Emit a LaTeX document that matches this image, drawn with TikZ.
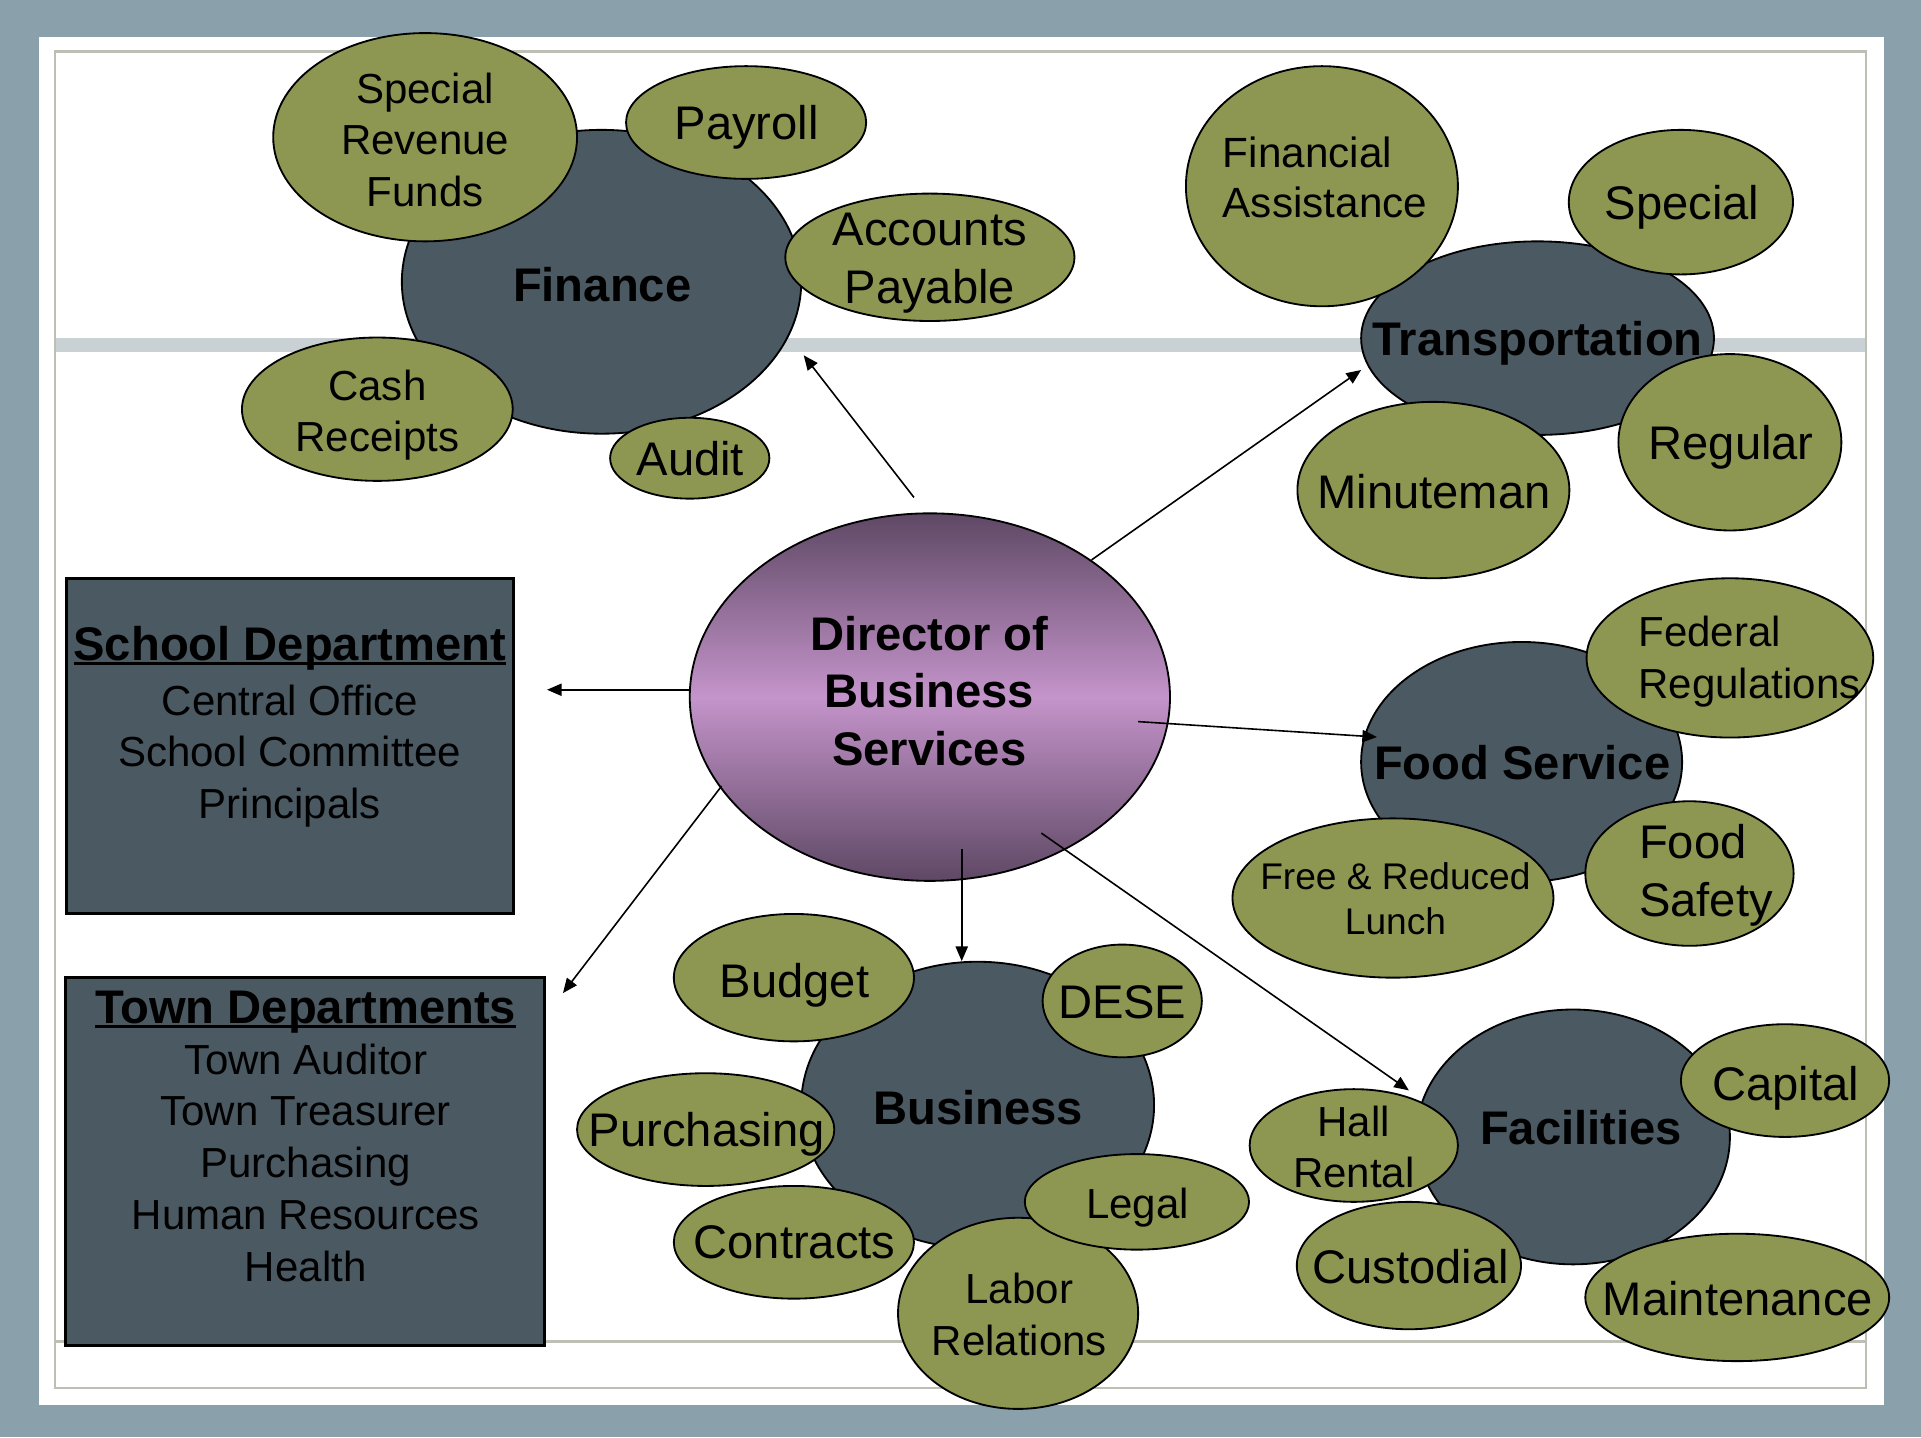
\documentclass[tikz,border=0pt]{standalone}
\usepackage{fontspec}
\setmainfont{Liberation Sans}
\usetikzlibrary{shapes.geometric,arrows.meta}
\definecolor{bgblue}{RGB}{138,160,171}
\definecolor{frameline}{RGB}{190,191,180}
\definecolor{band}{RGB}{202,209,212}
\definecolor{olive}{RGB}{142,151,82}
\definecolor{slate}{RGB}{74,89,98}
\definecolor{dirdark}{RGB}{94,72,100}
\definecolor{dirlight}{RGB}{196,148,202}
\newsavebox\ulbox
\newcommand{\myuline}[1]{\sbox\ulbox{#1}\rlap{\rule[-4pt]{\wd\ulbox}{2.5pt}}\usebox\ulbox}
\tikzset{
  bub/.style={ellipse, draw=black, line width=1.5pt, inner sep=0pt, fill=olive},
  hub/.style={ellipse, draw=black, line width=1.5pt, inner sep=0pt, fill=slate},
  deptbox/.style={rectangle, draw=black, line width=2.5pt, fill=slate, inner sep=0pt},
  big/.style={font=\fontsize{38.5}{47}\selectfont},
  med/.style={font=\fontsize{34.3}{42}\selectfont},
  sml/.style={font=\fontsize{30.3}{37}\selectfont},
  bigb/.style={font=\fontsize{38.5}{47}\selectfont\bfseries},
  txt/.style={inner sep=0pt, align=center},
  txt1/.style={inner sep=0pt, text depth=0pt},
  arr/.style={line width=1.3pt, -{Triangle[length=12pt,width=10pt]}}
}
\begin{document}
\begin{tikzpicture}[x=1pt,y=-1pt]
\useasboundingbox (0,0) rectangle (1568,1173);
% frame
\fill[bgblue] (0,0) rectangle (1568,1173);
\fill[white] (32,30) rectangle (1538,1147);
\fill[band] (45,276) rectangle (1523,287);
\draw[frameline, line width=2pt] (45,42) rectangle (1523,1133);
\draw[frameline, line width=2pt] (45,1095) -- (1523,1095);

% department boxes
\node[deptbox, minimum width=365, minimum height=274] (school) at (236.5,609) {};
\node[deptbox, minimum width=391, minimum height=300] (town) at (249,948) {};

% Finance cluster
\node[hub, minimum width=326, minimum height=248] (fin) at (491,230) {};
\node[bub, minimum width=248, minimum height=170] (srf) at (347,112) {};
\node[bub, minimum width=196, minimum height=92] (pay) at (609,100) {};
\node[bub, minimum width=236, minimum height=104] (ap) at (759,210) {};
\node[bub, minimum width=221, minimum height=117] (cash) at (308,334) {};
\node[bub, minimum width=130, minimum height=66] (audit) at (563,374) {};

% Transportation cluster
\node[hub, minimum width=288, minimum height=158] (trans) at (1255,276) {};
\node[bub, minimum width=222, minimum height=196] (fa) at (1079,152) {};
\node[bub, minimum width=183, minimum height=118] (spec) at (1372,165) {};
\node[bub, minimum width=182, minimum height=144] (reg) at (1412,361) {};
\node[bub, minimum width=222, minimum height=144] (minu) at (1170,400) {};

% Food cluster
\node[hub, minimum width=262, minimum height=196] (food) at (1242,622) {};
\node[bub, minimum width=234, minimum height=130] (fed) at (1412,537) {};
\node[bub, minimum width=262, minimum height=130] (frl) at (1137,733) {};
\node[bub, minimum width=170, minimum height=118] (fsafe) at (1379,713) {};

% Business cluster
\node[hub, minimum width=288, minimum height=234] (bus) at (798,902) {};
\node[bub, minimum width=196, minimum height=104] (budget) at (648,798) {};
\node[bub, minimum width=130, minimum height=92] (dese) at (916,817) {};
\node[bub, minimum width=210, minimum height=92] (purch) at (576,922) {};
\node[bub, minimum width=196, minimum height=92] (contr) at (648,1014) {};
\node[bub, minimum width=196, minimum height=156] (labor) at (831,1072) {};
\node[bub, minimum width=183, minimum height=78] (legal) at (928,981) {};

% Facilities cluster
\node[hub, minimum width=256, minimum height=208] (fac) at (1284,928) {};
\node[bub, minimum width=170, minimum height=92] (hall) at (1105,935) {};
\node[bub, minimum width=170, minimum height=92] (cap) at (1457,882) {};
\node[bub, minimum width=183, minimum height=104] (cust) at (1150,1033) {};
\node[bub, minimum width=248, minimum height=104] (maint) at (1418,1059) {};

% Director
\node[ellipse, draw=black, line width=1.5pt, inner sep=0pt, minimum width=392, minimum height=300,
      top color=dirdark, bottom color=dirdark, middle color=dirlight] (dir) at (759,569) {};

% connector end points
\coordinate (dFin) at (746,406);   \coordinate (tFin) at (656,290);
\coordinate (dTr) at (891,457);    \coordinate (tTr) at (1111,302);
\coordinate (dSch) at (563.6,563); \coordinate (tSch) at (446.5,563);
\coordinate (dFood) at (929,589);  \coordinate (tFood) at (1124,601.6);
\coordinate (dBus) at (785,693);   \coordinate (tBus) at (785,784.5);
\coordinate (dFac) at (850,680);   \coordinate (tFac) at (1150,890);
\coordinate (dTown) at (589,641.6);\coordinate (tTown) at (459.5,810.6);

\draw[arr] (dFin) -- (tFin);
\draw[arr] (dTr) -- (tTr);
\draw[arr] (dSch) -- (tSch);
\draw[arr] (dFood) -- (tFood);
\draw[arr] (dBus) -- (tBus);
\draw[arr] (dFac) -- (tFac);
\draw[arr] (dTown) -- (tTown);

% texts
\node[txt1, bigb] (fin-t) at (491.5,232) {Finance};
\node[txt, med] (srf-t) at (347,114) {Special\\Revenue\\Funds};
\node[txt1, big] (pay-t) at (609.5,100) {Payroll};
\node[txt, big] (ap-t) at (759,215) {Accounts\\Payable};
\node[txt, med] (cash-t) at (308,339) {Cash\\Receipts};
\node[txt1, big] (audit-t) at (563.5,374) {Audit};

\node[txt1, bigb] (trans-t) at (1255,276) {Transportation};
\node[txt, align=left, font=\fontsize{34.5}{41}\selectfont] (fa-t) at (1081.5,145) {Financial\\Assistance};
\node[txt1, big] (spec-t) at (1373,165) {Special};
\node[txt1, big] (reg-t) at (1413,361) {Regular};
\node[txt1, big] (minu-t) at (1170.5,401) {Minuteman};

\node[txt, bigb] (dir-t) at (758.5,564) {Director of\\Business\\Services};

\node[txt1, bigb] (school-h) at (236.5,525) {\myuline{School Department}};
\node[txt, med] (school-t) at (236.5,617) {Central Office\\School Committee\\Principals};
\node[txt1, bigb] (town-h) at (249.5,822) {\myuline{Town Departments}};
\node[txt, font=\fontsize{34.3}{42.3}\selectfont] (town-t) at (249.5,949) {Town Auditor\\Town Treasurer\\Purchasing\\Human Resources\\Health};

\node[txt1, bigb] (food-t) at (1242.5,622) {Food Service};
\node[txt, med, align=left] (fed-t) at (1428,540) {Federal\\Regulations};
\node[txt, sml] (frl-t) at (1139,733.5) {Free \& Reduced\\Lunch};
\node[txt, big, align=left] (fsafe-t) at (1392.5,714.5) {Food\\Safety};

\node[txt1, bigb] (bus-t) at (798.5,904) {Business};
\node[txt1, big] (budget-t) at (648.5,800) {Budget};
\node[txt1, big] (dese-t) at (916,818) {DESE};
\node[txt1, big] (purch-t) at (577,922) {Purchasing};
\node[txt1, big] (contr-t) at (648.5,1014) {Contracts};
\node[txt, med] (labor-t) at (832,1073) {Labor\\Relations};
\node[txt1, med] (legal-t) at (928.5,982) {Legal};

\node[txt1, bigb] (fac-t) at (1290.5,920) {Facilities};
\node[txt, med] (hall-t) at (1105,936) {Hall\\Rental};
\node[txt1, big] (cap-t) at (1457.5,884) {Capital};
\node[txt1, big] (cust-t) at (1151.5,1034) {Custodial};
\node[txt1, big] (maint-t) at (1418.5,1060) {Maintenance};
\end{tikzpicture}
\end{document}
